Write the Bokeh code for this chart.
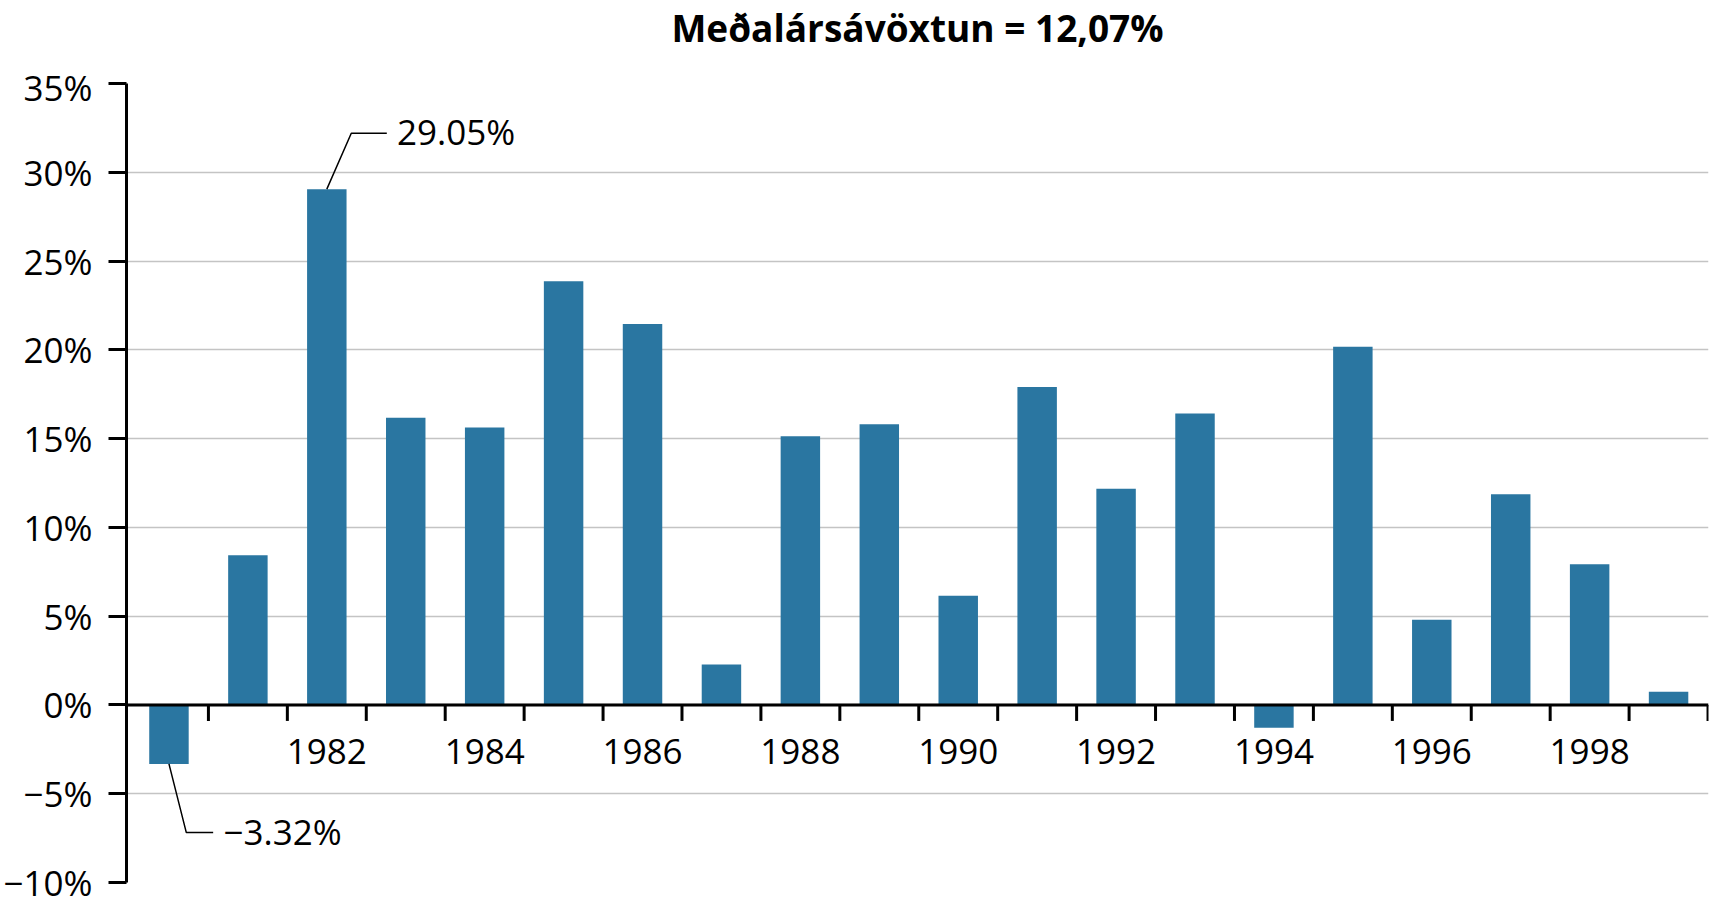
from bokeh.plotting import figure
from bokeh.layouts import column
from bokeh.models import ColumnDataSource, Range1d, FixedTicker, Span
from bokeh.core.properties import value
from bokeh.embed import file_html
from bokeh.resources import INLINE

# ---- data ----
years = list(range(1980, 2000))
returns = [-3.32, 8.43, 29.05, 16.17, 15.62, 23.86, 21.46, 2.28, 15.13, 15.81,
           6.15, 17.90, 12.18, 16.42, -1.29, 20.17, 4.80, 11.87, 7.93, 0.74]
year_labels = [1982, 1984, 1986, 1988, 1990, 1992, 1994, 1996, 1998]
y_ticks = [-10, -5, 0, 5, 10, 15, 20, 25, 30, 35]
title_text = "Meðalársávöxtun = 12,07%"
callout_years = [1982, 1980]
callout_values = [29.05, -3.32]
callout_texts = ["29.05%", "\u22123.32%"]

FONT = "Open Sans"
BAR = "#2a76a1"

x0, x1 = years[0] - 0.538, years[-1] + 0.506
xr = Range1d(x0, x1)

# ---- header strip carrying the title ----
head = figure(width=1710, height=63, output_backend="svg", toolbar_location=None,
              x_range=xr, y_range=Range1d(0, 1),
              x_axis_location=None, y_axis_location=None,
              min_border_left=125, min_border_right=2, min_border_top=0,
              min_border_bottom=0)
head.outline_line_color = None
head.grid.grid_line_color = None
head.text(x=[(x0 + x1) / 2], y=[1 - 27 / 63], text=[title_text],
          text_font=value(FONT), text_font_size="37px", text_font_style="bold",
          text_color="black", text_align="center", text_baseline="alphabetic")

# ---- main chart ----
p = figure(width=1710, height=843, output_backend="svg", toolbar_location=None,
           x_range=xr, y_range=Range1d(min(y_ticks), max(y_ticks)),
           x_axis_location=None,
           min_border_left=125, min_border_right=2, min_border_top=20,
           min_border_bottom=24)
p.outline_line_color = None
p.background_fill_color = "white"

# bars
src = ColumnDataSource(dict(x=years, top=returns))
p.vbar(x="x", top="top", bottom=0, width=0.5, source=src,
       fill_color=BAR, line_color=None)

# y axis
p.yaxis.ticker = FixedTicker(ticks=y_ticks)
p.yaxis.major_label_overrides = {
    t: (f"\u2212{abs(t)}%" if t < 0 else f"{t}%") for t in y_ticks}
p.yaxis.major_label_text_font = FONT
p.yaxis.major_label_text_font_size = "35px"
p.yaxis.major_label_text_color = "black"
p.yaxis.axis_line_color = "black"
p.yaxis.axis_line_width = 3
p.yaxis.major_tick_line_color = "black"
p.yaxis.major_tick_line_width = 3
p.yaxis.major_tick_out = 18
p.yaxis.major_tick_in = 0
p.yaxis.minor_tick_line_color = None
p.yaxis.major_label_standoff = 16

p.ygrid.ticker = FixedTicker(ticks=y_ticks)
p.ygrid.grid_line_color = "#c4c4c4"
p.ygrid.grid_line_width = 1.5
p.xgrid.grid_line_color = None

# zero line with ticks between the years
p.add_layout(Span(location=0, dimension="width", line_color="black", line_width=3))
bounds = [y + 0.5 for y in years]
p.segment(x0=bounds, y0=[0] * len(bounds), x1=bounds, y1=[-0.9] * len(bounds),
          line_color="black", line_width=3)

# year labels
p.text(x=year_labels, y=[-2.6] * len(year_labels), text=[str(y) for y in year_labels],
       text_font=value(FONT), text_font_size="35px", text_color="black",
       text_align="center", text_baseline="middle")

# callouts
top_y, top_v = callout_years[0], callout_values[0]
bot_y, bot_v = callout_years[1], callout_values[1]
p.line(x=[top_y, top_y + 0.31, top_y + 0.76], y=[top_v, 32.2, 32.2],
       line_color="black", line_width=1.5)
p.text(x=[top_y + 0.89], y=[32.3], text=[callout_texts[0]],
       text_font=value(FONT), text_font_size="35px", text_color="black",
       text_align="left", text_baseline="middle")
p.line(x=[bot_y, bot_y + 0.22, bot_y + 0.56], y=[bot_v, -7.19, -7.19],
       line_color="black", line_width=1.5)
p.text(x=[bot_y + 0.69], y=[-7.1], text=[callout_texts[1]],
       text_font=value(FONT), text_font_size="35px", text_color="black",
       text_align="left", text_baseline="middle")

layout = column(head, p, spacing=0)
open("out.html", "w").write(file_html(layout, INLINE))
